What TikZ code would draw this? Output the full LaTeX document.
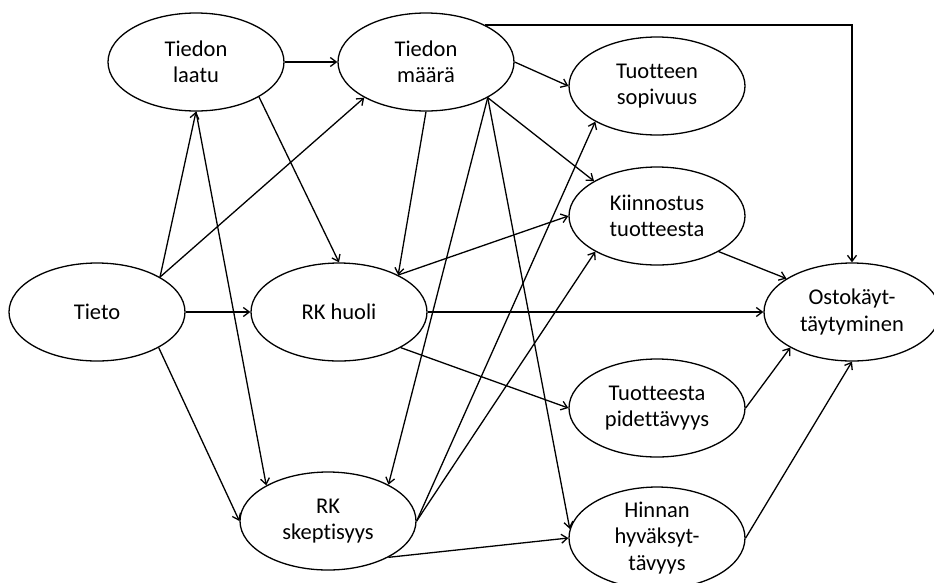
\documentclass[tikz,border=0pt]{standalone}
\usepackage{fontspec}
\setmainfont{Carlito}[Ligatures=NoCommon]
\usetikzlibrary{arrows.meta,shapes.geometric}
\begin{document}
\begin{tikzpicture}[x=1pt,y=-1pt,
  var/.style={ellipse,draw,line width=1.3pt,minimum width=176pt,minimum height=98pt,
    inner sep=0pt,align=center,font=\fontsize{22.5}{26.5}\selectfont},
  link/.style={line width=1.3pt,-{Straight Barb[length=6pt,width=9pt,line width=1.3pt]}}]
\useasboundingbox (0,0) rectangle (934,582);
\clip (0,0) rectangle (934,582);
% variables
\node[var] (laatu) at (196,62) {Tiedon\\laatu};
\node[var] (maara) at (426,62) {Tiedon\\määrä};
\node[var] (sopivuus) at (657,86) {Tuotteen\\sopivuus};
\node[var] (kiinnostus) at (657,216) {Kiinnostus\\tuotteesta};
\node[var] (tieto) at (97,312) {Tieto};
\node[var] (huoli) at (339,312) {RK huoli};
\node[var] (osto) at (852,312) {Ostokäyt-\\täytyminen};
\node[var] (pidettavyys) at (657,408) {Tuotteesta\\pidettävyys};
\node[var] (skept) at (328,521) {RK\\skeptisyys};
\node[var] (hinnan) at (657,538) {Hinnan\\hyväksyt-\\tävyys};
% paths
\draw[link] (laatu.east) -- (maara.west);
\draw[link] (tieto.29) -- (laatu.south);
\draw[link] (tieto.29) -- (maara.210);
\draw[link] (laatu.-29) -- (huoli.north);
\draw[link] (laatu.south) -- (skept.150);
\draw[link] (maara.south) -- (huoli.32);
\draw[link] (maara.-30) -- (skept.31);
\draw[link] (maara.east) -- (sopivuus.west);
\draw[link] (maara.-30) -- (kiinnostus.151);
\draw[link] (maara.-30) -- (hinnan.174);
\draw[link] (maara.32) -| (osto.north);
\draw[link] (tieto.east) -- (huoli.west);
\draw[link] (tieto.-30) -- (skept.west);
\draw[link] (huoli.32) -- (kiinnostus.west);
\draw[link] (huoli.east) -- (osto.west);
\draw[link] (huoli.-30) -- (pidettavyys.west);
\draw[link] (skept.east) -- (sopivuus.210);
\draw[link] (skept.east) -- (kiinnostus.210);
\draw[link] (skept.-31) -- (hinnan.west);
\draw[link] (kiinnostus.-30) -- (osto.153);
\draw[link] (pidettavyys.east) -- (osto.210);
\draw[link] (hinnan.east) -- (osto.south);
\end{tikzpicture}
\end{document}
